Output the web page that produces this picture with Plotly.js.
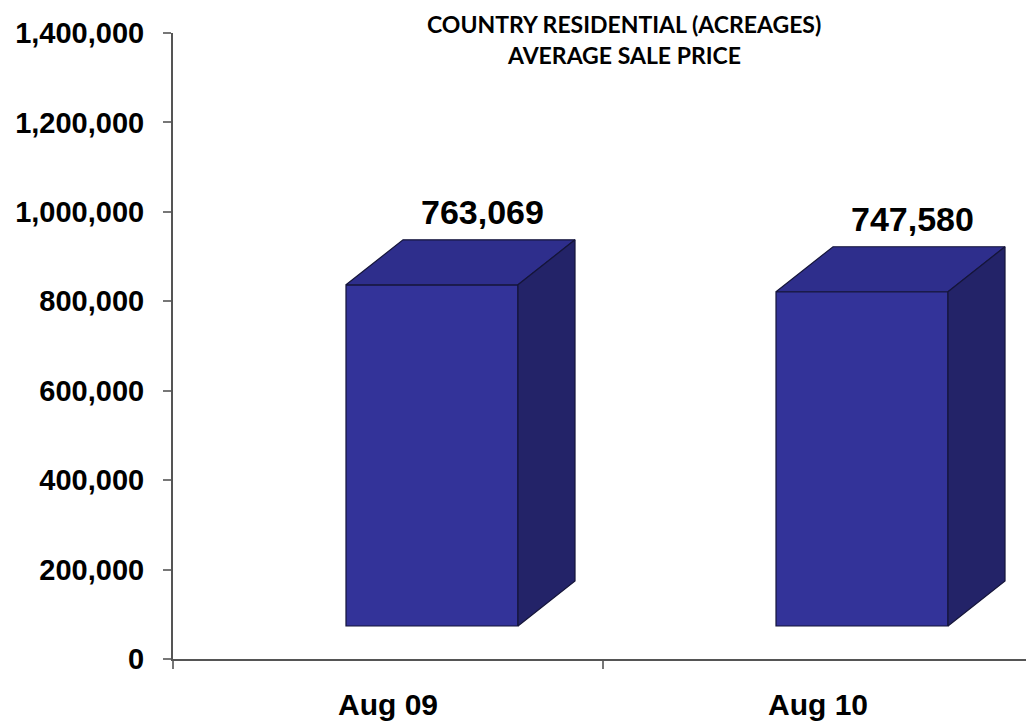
<!DOCTYPE html>
<html>
<head>
<meta charset="utf-8">
<script src="https://cdn.plot.ly/plotly-3.0.1.min.js"></script>
<style>html,body{margin:0;padding:0;background:#fff;}#chart{width:1026px;height:723px;}</style>
</head>
<body>
<div id="chart"></div>
<script>
// ---- data ----
const categories = ["Aug 09", "Aug 10"];
const avgSalePrice = [763069, 747580];
const titleLines = ["COUNTRY RESIDENTIAL (ACREAGES)", "AVERAGE SALE PRICE"];
const yTickValues = [0, 200000, 400000, 600000, 800000, 1000000, 1200000, 1400000];

// ---- 3D look (style constants) ----
const floorLift = 73800;   // front face floor shift (value units)
const depthY = 100600;     // depth rise (value units)
const depthX = 0.1326;     // depth shift (category units)
const barW = 0.4;
const barOff = -0.0977;

const frontColor = "#333399";
const topColor = "#2e2e8c";
const sideColor = "#232368";
const edgeColor = "#15153a";

const xIdx = categories.map((c, i) => i);
const traces = [];

// front faces as real bars
traces.push({
  type: "bar",
  x: xIdx,
  y: avgSalePrice,
  base: avgSalePrice.map(() => floorLift),
  width: avgSalePrice.map(() => barW),
  offset: barOff,
  marker: { color: frontColor, line: { color: edgeColor, width: 1.2 } },
  hoverinfo: "skip",
  showlegend: false
});

// top & side faces
xIdx.forEach((xi, i) => {
  const x0 = xi + barOff, x1 = x0 + barW;
  const yb = floorLift, yt = floorLift + avgSalePrice[i];
  traces.push({
    type: "scatter", mode: "lines", fill: "toself", fillcolor: topColor,
    x: [x0, x0 + depthX, x1 + depthX, x1, x0],
    y: [yt, yt + depthY, yt + depthY, yt, yt],
    line: { color: edgeColor, width: 1.2 }, hoverinfo: "skip", showlegend: false
  });
  traces.push({
    type: "scatter", mode: "lines", fill: "toself", fillcolor: sideColor,
    x: [x1, x1 + depthX, x1 + depthX, x1, x1],
    y: [yb, yb + depthY, yt + depthY, yt, yb],
    line: { color: edgeColor, width: 1.2 }, hoverinfo: "skip", showlegend: false
  });
});

const annotations = xIdx.map((xi, i) => ({
  x: xi + 0.22, y: floorLift + avgSalePrice[i] + depthY,
  xref: "x", yref: "y", yanchor: "bottom", xanchor: "center",
  yshift: 7, showarrow: false,
  text: avgSalePrice[i].toLocaleString("en-US"),
  font: { family: "Liberation Sans, Arial, sans-serif", size: 34, color: "#000", weight: "bold" }
}));

const titleY = [1.0144, 0.9649];
titleLines.forEach((t, i) => {
  annotations.push({
    x: 0.5287, y: titleY[i], xref: "paper", yref: "paper",
    xanchor: "center", yanchor: "middle", showarrow: false,
    text: t,
    font: { family: "Lato, 'Open Sans', sans-serif", size: 23, color: "#000", weight: "bold" }
  });
});

const layout = {
  width: 1026, height: 723,
  margin: { l: 173, r: 0, t: 33, b: 64, pad: 0 },
  paper_bgcolor: "#fff", plot_bgcolor: "#fff",
  showlegend: false,
  xaxis: {
    range: [-0.5, 1.4837], fixedrange: true,
    tickmode: "array", tickvals: xIdx, ticktext: categories,
    ticks: "", showgrid: false, zeroline: false,
    showline: true, linecolor: "#555", linewidth: 2,
    ticklabelstandoff: 18,
    minor: { tickmode: "linear", tick0: -0.5, dtick: 1, ticks: "outside", ticklen: 8, tickcolor: "#777", tickwidth: 2, showgrid: false },
    tickfont: { family: "Liberation Sans, Arial, sans-serif", size: 30, color: "#000", weight: "bold" }
  },
  yaxis: {
    range: [0, 1400000], fixedrange: true,
    tickmode: "array", tickvals: yTickValues,
    ticktext: yTickValues.map(v => v.toLocaleString("en-US")),
    ticks: "outside", ticklen: 8, tickcolor: "#777", tickwidth: 2,
    showgrid: false, zeroline: false,
    showline: true, linecolor: "#555", linewidth: 2,
    ticklabelstandoff: 13,
    tickfont: { family: "Liberation Sans, Arial, sans-serif", size: 29, color: "#000", weight: "bold" }
  },
  annotations: annotations
};

Plotly.newPlot("chart", traces, layout, { displayModeBar: false, staticPlot: true });
</script>
</body>
</html>
